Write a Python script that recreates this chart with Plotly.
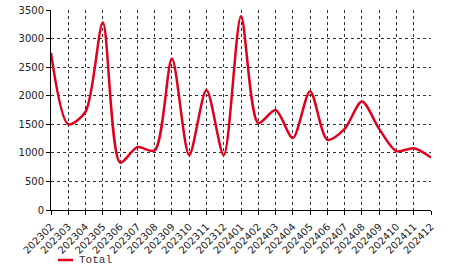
import plotly.graph_objects as go

months = ["202302","202303","202304","202305","202306","202307","202308","202309","202310","202311","202312",
          "202401","202402","202403","202404","202405","202406","202407","202408","202409","202410","202411","202412"]
total = [2750,1500,1720,3280,830,1100,1040,2650,960,2100,960,
         3390,1520,1750,1260,2080,1230,1420,1900,1420,1030,1080,920]

fig = go.Figure()
fig.add_trace(go.Scatter(x=months, y=total, mode="lines", name="Total",
                         line=dict(color="#e0001b", width=2.5, shape="spline", smoothing=0.8)))

def px_x(p):
    return (p - 51) / 380.0

def px_y(p):
    return (210 - p) / 200.0

fig.add_shape(type="line", xref="paper", yref="paper",
              x0=px_x(58), x1=px_x(73), y0=px_y(260), y1=px_y(260),
              line=dict(color="#e0001b", width=2.5))
fig.add_annotation(xref="paper", yref="paper", x=px_x(77), y=px_y(260), text="Total",
                   showarrow=False, xanchor="left", yanchor="middle",
                   font=dict(family="Liberation Mono", size=11, color="#333"))

fig.update_layout(
    width=466, height=272,
    margin=dict(l=51, r=35, t=10, b=62, autoexpand=False),
    paper_bgcolor="white", plot_bgcolor="white",
    showlegend=False,
    font=dict(family="DejaVu Sans", size=10, color="#222"),
)
fig.update_xaxes(type="category", range=[0, 22], showline=True, linecolor="black", linewidth=1,
                 showgrid=True, gridcolor="#333", griddash="dot", gridwidth=1,
                 ticks="outside", ticklen=4, tickcolor="black", tickangle=-45, automargin=False,
                 ticklabelstandoff=2,
                 tickfont=dict(size=10), mirror=False, zeroline=False)
fig.update_yaxes(range=[0, 3500], dtick=500, showline=True, linecolor="black", linewidth=1,
                 showgrid=True, gridcolor="#333", griddash="dot", gridwidth=1, automargin=False,
                 ticks="outside", ticklen=4, tickcolor="black", zeroline=False,
                 tickfont=dict(size=10))
fig.write_html("out.html")
